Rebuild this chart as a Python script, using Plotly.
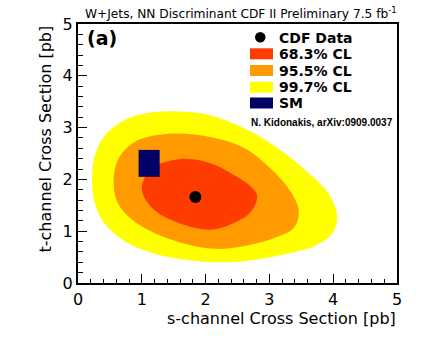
import plotly.graph_objects as go

# contour boundaries (s-channel, t-channel in pb)
cl997_s = [4.06, 3.90, 3.59, 3.12, 2.60, 2.07, 1.60, 1.20, 0.79, 0.43, 0.27, 0.22,
           0.27, 0.43, 0.74, 1.16, 1.68, 2.15, 2.60, 3.22, 3.75, 4.01]
cl997_t = [1.32, 1.77, 2.15, 2.61, 2.99, 3.24, 3.31, 3.30, 3.18, 2.86, 2.48, 2.03,
           1.51, 1.13, 0.80, 0.58, 0.45, 0.40, 0.42, 0.55, 0.74, 1.00]

cl955_s = [3.46, 3.33, 3.01, 2.60, 2.07, 1.42, 0.90, 0.64, 0.56, 0.61, 0.85, 1.26,
           1.73, 2.15, 2.49, 3.01, 3.38]
cl955_t = [1.38, 1.77, 2.22, 2.61, 2.82, 2.88, 2.73, 2.41, 2.03, 1.58, 1.22, 0.93,
           0.74, 0.66, 0.69, 0.84, 1.06]

cl683_s = [2.81, 2.72, 2.49, 2.15, 1.85, 1.58, 1.16, 1.00, 1.16, 1.58, 2.07, 2.39, 2.70]
cl683_t = [1.68, 1.85, 2.05, 2.28, 2.38, 2.39, 2.22, 1.83, 1.45, 1.16, 1.03, 1.13, 1.36]

data_s = [1.84]
data_t = [1.66]

sm_s = [0.95, 1.28]
sm_t = [2.05, 2.57]

legend_labels = ["CDF Data", "68.3% CL", "95.5% CL", "99.7% CL", "SM"]

c_red = "#ff3c00"
c_orange = "#ff9a00"
c_yellow = "#ffff00"
c_navy = "#000066"
FONT = "DejaVu Sans"

fig = go.Figure()


def closed(a):
    return list(a) + [a[0]]


for xs, ys, col in [(cl997_s, cl997_t, c_yellow),
                    (cl955_s, cl955_t, c_orange),
                    (cl683_s, cl683_t, c_red)]:
    fig.add_trace(go.Scatter(x=closed(xs), y=closed(ys), mode="lines",
                             line=dict(color=col, width=0, shape="spline", smoothing=1.0),
                             fill="toself", fillcolor=col, hoverinfo="skip"))

fig.add_trace(go.Scatter(x=[sm_s[0], sm_s[1], sm_s[1], sm_s[0], sm_s[0]],
                         y=[sm_t[0], sm_t[0], sm_t[1], sm_t[1], sm_t[0]],
                         mode="lines", line=dict(color=c_navy, width=0),
                         fill="toself", fillcolor=c_navy))

fig.add_trace(go.Scatter(x=data_s, y=data_t, mode="markers",
                         marker=dict(color="black", size=12)))

# pixel -> paper helpers (plot area 78..397 x 24..283)
def px(x):
    return (x - 78) / 319.0


def py(y):
    return (283 - y) / 259.0


# hand-made legend
fig.add_shape(type="circle", xref="paper", yref="paper",
              x0=px(255), x1=px(265.5), y0=py(42.5), y1=py(32),
              fillcolor="black", line=dict(width=0))
boxes = [c_red, c_orange, c_yellow, c_navy]
rows = [37.5, 53.8, 70.5, 87.2, 103]
for col, yc in zip(boxes, rows[1:]):
    fig.add_shape(type="rect", xref="paper", yref="paper",
                  x0=px(250), x1=px(273), y0=py(yc + 5.5), y1=py(yc - 5.5),
                  fillcolor=col, line=dict(width=0))
for lab, yc in zip(legend_labels, rows):
    fig.add_annotation(x=px(277), y=py(yc), xref="paper", yref="paper",
                       text="<b>%s</b>" % lab, showarrow=False,
                       xanchor="left", yanchor="middle",
                       font=dict(family=FONT, size=14, color="black"))

fig.add_annotation(x=px(249), y=py(122), xref="paper", yref="paper",
                   text="<b>N. Kidonakis, arXiv:0909.0037</b>", showarrow=False,
                   xanchor="left", yanchor="middle",
                   font=dict(family="Liberation Sans", size=10, color="black"))

fig.add_annotation(x=px(85), y=py(38), xref="paper", yref="paper",
                   text="<b>(a)</b>", showarrow=False, xanchor="left", yanchor="middle",
                   font=dict(family=FONT, size=19, color="black"))

fig.add_annotation(x=px(399), y=py(13), xref="paper", yref="paper",
                   text="W+Jets, NN Discriminant CDF II Preliminary 7.5 fb<sup>-1</sup>",
                   showarrow=False, xanchor="right", yanchor="middle",
                   font=dict(family=FONT, size=12.2, color="black"))

fig.add_annotation(x=px(398), y=py(318), xref="paper", yref="paper",
                   text="s-channel Cross Section [pb]", showarrow=False,
                   xanchor="right", yanchor="middle",
                   font=dict(family=FONT, size=16, color="black"))

fig.add_annotation(x=px(45), y=py(24), xref="paper", yref="paper",
                   text="t-channel Cross Section [pb]", showarrow=False, textangle=-90,
                   xanchor="center", yanchor="top",
                   font=dict(family=FONT, size=16, color="black"))

axis_style = dict(range=[0, 5], dtick=1, showgrid=False, zeroline=False,
                  showline=True, linecolor="black", linewidth=2, mirror=True,
                  ticks="inside", ticklen=9, tickwidth=1.3, tickcolor="black",
                  minor=dict(dtick=0.2, ticks="inside", ticklen=4.5, tickwidth=1.2,
                             tickcolor="black"),
                  tickfont=dict(family=FONT, size=16, color="black"))

fig.update_xaxes(**axis_style, ticklabelstandoff=1)
fig.update_yaxes(**axis_style, ticklabelstandoff=0)

fig.update_layout(width=432, height=342,
                  margin=dict(l=78, r=35, t=24, b=59),
                  plot_bgcolor="white", paper_bgcolor="white",
                  showlegend=False)

fig.write_html("out.html", config={"displayModeBar": False},
               post_script="document.body.style.margin='0px';")
